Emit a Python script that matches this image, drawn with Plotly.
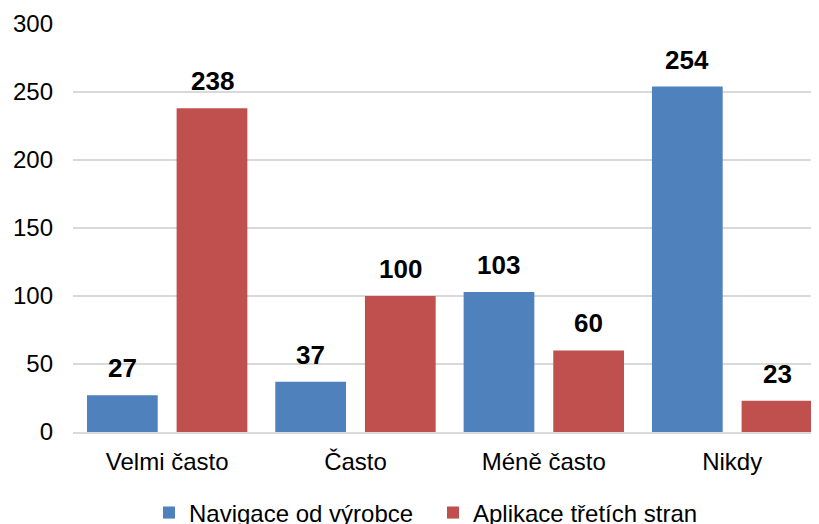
import plotly.graph_objects as go

categories = ["Velmi často", "Často", "Méně často", "Nikdy"]
navigace = [27, 37, 103, 254]
aplikace = [238, 100, 60, 23]
series_names = ["Navigace od výrobce", "Aplikace třetích stran"]
y_ticks = [0, 50, 100, 150, 200, 250, 300]

BLUE = "#4F81BD"
RED = "#C0504D"
FONT = "Arial, Liberation Sans, sans-serif"

fig = go.Figure()
fig.add_trace(go.Bar(x=categories, y=navigace, name=series_names[0],
                     marker=dict(color=BLUE, line=dict(width=0))))
fig.add_trace(go.Bar(x=categories, y=aplikace, name=series_names[1],
                     marker=dict(color=RED, line=dict(width=0))))

annotations = []
for vals, shift in ((navigace, -45), (aplikace, 45)):
    for c, v in zip(categories, vals):
        annotations.append(dict(x=c, y=v, xref="x", yref="y", text=f"<b>{v}</b>",
                                showarrow=False, xshift=shift, yshift=10,
                                yanchor="bottom", xanchor="center",
                                font=dict(family=FONT, size=26, color="#000000")))

fig.update_layout(
    width=819, height=524,
    margin=dict(l=65, r=12, t=16, b=100, autoexpand=False),
    paper_bgcolor="white", plot_bgcolor="white",
    barmode="group", bargap=0.048, bargroupgap=0.211,
    font=dict(family=FONT, size=24, color="#000000"),
    showlegend=True,
    legend=dict(orientation="h", x=141 / 819, xanchor="left", xref="container",
                y=19 / 524, yanchor="middle", yref="container",
                font=dict(family=FONT, size=24, color="#000000"),
                itemwidth=30, entrywidth=239, traceorder="normal"),
    annotations=annotations,
)
fig.update_xaxes(type="category", range=[-0.5, 3.44], showgrid=False,
                 showline=True, linecolor="#D9D9D9", linewidth=2, automargin=False,
                 ticks="", ticklabelstandoff=7,
                 tickfont=dict(family=FONT, size=24, color="#000000"))
fig.update_yaxes(range=[0, 300], tickvals=y_ticks, showgrid=True,
                 gridcolor="#D9D9D9", gridwidth=1.5, zeroline=False, automargin=False,
                 showline=False, ticks="", ticklabelstandoff=19,
                 tickfont=dict(family=FONT, size=24, color="#000000"))

fig.write_html("out.html")
